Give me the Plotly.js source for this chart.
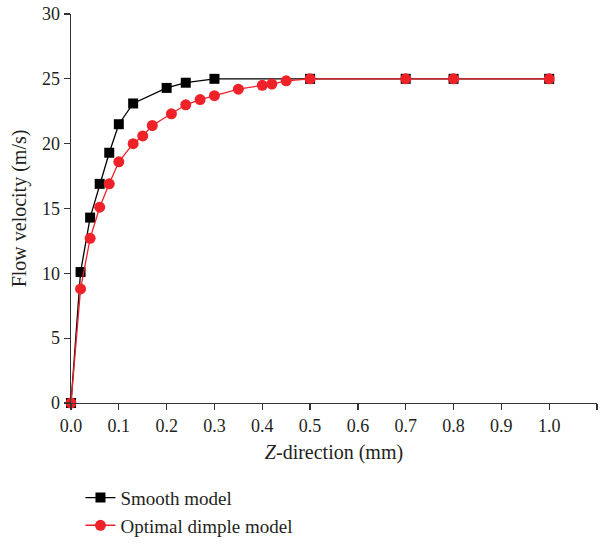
<!DOCTYPE html>
<html>
<head>
<meta charset="utf-8">
<script src="https://cdn.plot.ly/plotly-3.0.1.min.js"></script>
<style>html,body{margin:0;padding:0;background:#fff;}#chart{width:607px;height:544px;}</style>
</head>
<body>
<div id="chart"></div>
<script>
var smoothX = [0, 0.02, 0.04, 0.06, 0.08, 0.10, 0.13, 0.20, 0.24, 0.30, 0.50, 0.70, 0.80, 1.00];
var smoothY = [0, 10.1, 14.3, 16.9, 19.3, 21.5, 23.1, 24.3, 24.7, 25.0, 25.0, 25.0, 25.0, 25.0];
var dimpleX = [0, 0.02, 0.04, 0.06, 0.08, 0.10, 0.13, 0.15, 0.17, 0.21, 0.24, 0.27, 0.30, 0.35, 0.40, 0.42, 0.45, 0.50, 0.70, 0.80, 1.00];
var dimpleY = [0, 8.8, 12.7, 15.1, 16.9, 18.6, 20.0, 20.6, 21.4, 22.3, 23.0, 23.4, 23.7, 24.2, 24.5, 24.6, 24.85, 25.0, 25.0, 25.0, 25.0];
var xTicks = [0, 0.1, 0.2, 0.3, 0.4, 0.5, 0.6, 0.7, 0.8, 0.9, 1.0, 1.1];
var xTickText = ['0.0','0.1','0.2','0.3','0.4','0.5','0.6','0.7','0.8','0.9','1.0','1.1'];
var yTicks = [0, 5, 10, 15, 20, 25, 30];

var serif = 'Liberation Serif, Times New Roman, serif';
var txt = '#231f20';
var traces = [
  {x: smoothX, y: smoothY, name: 'Smooth model', mode: 'lines+markers', type: 'scatter',
   line: {color: '#000000', width: 1.3}, marker: {symbol: 'square', size: 10, color: '#000000'}, cliponaxis: false},
  {x: dimpleX, y: dimpleY, name: 'Optimal dimple model', mode: 'lines+markers', type: 'scatter',
   line: {color: '#ee2228', width: 1.3}, marker: {symbol: 'circle', size: 11, color: '#ee2228'}, cliponaxis: false}
];
var layout = {
  width: 607, height: 544,
  margin: {l: 71, r: 10, t: 14, b: 141, autoexpand: false},
  paper_bgcolor: '#ffffff', plot_bgcolor: '#ffffff',
  font: {family: serif, size: 18, color: txt},
  showlegend: true,
  legend: {x: 0.018, xanchor: 'left', yref: 'container', y: 0.12, yanchor: 'top', font: {family: serif, size: 19, color: txt},
           bgcolor: 'rgba(0,0,0,0)', tracegroupgap: 0},
  xaxis: {range: [0, 1.1], tickvals: xTicks, ticktext: xTickText, showgrid: false, zeroline: false, automargin: false,
          showline: true, linecolor: '#333333', linewidth: 1.3, ticks: 'outside', ticklen: 6, tickcolor: '#333333', tickwidth: 1.3,
          tickfont: {family: serif, size: 18, color: txt},
          title: {text: '<i>Z</i>-direction (mm)', font: {family: serif, size: 20, color: txt}, standoff: 10}},
  yaxis: {range: [0, 30], tickvals: yTicks, showgrid: false, zeroline: false, automargin: false,
          showline: true, linecolor: '#333333', linewidth: 1.3, ticks: 'outside', ticklen: 6, tickcolor: '#333333', tickwidth: 1.3,
          tickfont: {family: serif, size: 18, color: txt},
          title: {text: 'Flow velocity (m/s)', font: {family: serif, size: 20, color: txt}, standoff: 10}}
};
Plotly.newPlot('chart', traces, layout, {displayModeBar: false, staticPlot: true});
</script>
</body>
</html>
